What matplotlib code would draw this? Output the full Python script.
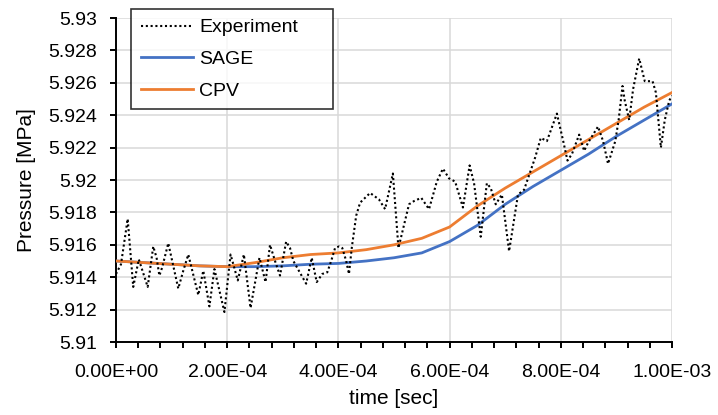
import matplotlib
matplotlib.use("Agg")
import matplotlib.pyplot as plt
from matplotlib.ticker import MultipleLocator, FuncFormatter
import numpy as np

plt.rcParams["font.family"] = ["Liberation Sans", "DejaVu Sans"]

# measured pressure, time in microseconds
exp_t_us = [0, 9, 21, 31, 41, 57, 67, 73, 78, 83, 94, 112, 121, 130, 148, 157,
            168, 177, 195, 206, 211, 219, 230, 242, 258, 269, 277, 286, 295,
            306, 313, 319, 342, 352, 361, 371, 380, 387, 394, 401, 407, 414,
            419, 424, 432, 439, 457, 473, 484, 498, 508, 527, 536, 549, 563,
            577, 588, 599, 610, 624, 636, 644, 656, 667, 674, 683, 694, 707,
            723, 734, 743, 754, 764, 775, 793, 805, 812, 820, 833, 842, 849,
            867, 876, 885, 898, 904, 911, 915, 923, 930, 941, 951, 965, 971,
            980, 987, 995, 1000]
exp_p = [5.9142, 5.9148, 5.9176, 5.9134, 5.9151, 5.9134, 5.9159, 5.9152,
         5.9141, 5.9146, 5.9161, 5.9133, 5.9144, 5.9154, 5.9129, 5.9144,
         5.9122, 5.9145, 5.91185, 5.9154, 5.9148, 5.9138, 5.9154, 5.9121,
         5.9152, 5.9137, 5.9160, 5.9150, 5.9141, 5.9162, 5.9158, 5.9150,
         5.9136, 5.9152, 5.9137, 5.9142, 5.9143, 5.9150, 5.9158, 5.9159,
         5.9158, 5.9150, 5.9142, 5.9158, 5.9178, 5.9186, 5.9192, 5.9188,
         5.9182, 5.9204, 5.9158, 5.9185, 5.9187, 5.9189, 5.9182, 5.9199,
         5.9207, 5.9201, 5.9199, 5.9183, 5.9209, 5.9198, 5.9165, 5.9198,
         5.9195, 5.9185, 5.9191, 5.9156, 5.9191, 5.9194, 5.9203, 5.9214,
         5.9226, 5.9224, 5.9241, 5.9223, 5.9212, 5.9216, 5.9228, 5.9218,
         5.9223, 5.9233, 5.9224, 5.9210, 5.9224, 5.9237, 5.9258, 5.9249,
         5.9237, 5.9256, 5.9275, 5.9261, 5.9261, 5.9254, 5.9220, 5.9237,
         5.9249, 5.9252]

# simulations, time in microseconds
sim_t_us = [0, 50, 100, 150, 200, 250, 300, 350, 400, 450, 500, 550, 600,
            650, 700, 750, 800, 850, 900, 950, 1000]
sage_p = [5.9150, 5.9149, 5.9148, 5.9147, 5.91465, 5.91465, 5.9147, 5.9148,
          5.91485, 5.9150, 5.9152, 5.9155, 5.9162, 5.9172, 5.9185, 5.9196,
          5.9206, 5.9216, 5.9227, 5.9237, 5.9247]
cpv_p = [5.9150, 5.9149, 5.9148, 5.9147, 5.91465, 5.9149, 5.9152, 5.9154,
         5.9155, 5.9157, 5.9160, 5.9164, 5.9171, 5.9184, 5.9195, 5.9205,
         5.9215, 5.9225, 5.9235, 5.9245, 5.9254]

exp_t = np.array(exp_t_us) * 1e-6
sim_t = np.array(sim_t_us) * 1e-6

fig = plt.figure(figsize=(7.18, 4.15), dpi=100)
ax = fig.add_axes([116 / 718, 1 - 342 / 415, 556 / 718, 324 / 415])

ax.plot(exp_t, exp_p, color="black", lw=1.5, linestyle=(0, (1, 1.3)),
        label="Experiment", zorder=4)
ax.plot(sim_t, sage_p, color="#4472C4", lw=2.0, label="SAGE", zorder=3)
ax.plot(sim_t, cpv_p, color="#ED7D31", lw=2.0, label="CPV", zorder=3.5)

ax.set_xlim(0, 1e-3)
ax.set_ylim(5.91, 5.93)
ax.xaxis.set_major_locator(MultipleLocator(2e-4))
ax.xaxis.set_minor_locator(MultipleLocator(4e-5))
ax.yaxis.set_major_locator(MultipleLocator(0.002))
ax.xaxis.set_major_formatter(FuncFormatter(lambda v, p: f"{v:.2E}"))
ax.yaxis.set_major_formatter(FuncFormatter(lambda v, p: f"{round(v, 3):g}"))

ax.grid(True, color="#d9d9d9", lw=1.1, zorder=0)
ax.set_axisbelow(True)
for s in ["top", "right"]:
    ax.spines[s].set_visible(False)
for s in ["left", "bottom"]:
    ax.spines[s].set_linewidth(1.4)
ax.tick_params(which="both", direction="out", length=4.5, width=1.4,
               labelsize=14, colors="black")
ax.tick_params(axis="y", pad=9)
ax.tick_params(axis="x", pad=11)

ax.set_xlabel("time [sec]", fontsize=15, labelpad=6)
ax.set_ylabel("Pressure [MPa]", fontsize=15, labelpad=9)

# legend box spans x 131-333 px, y 9-110 px of the figure
leg = ax.legend(loc="upper left",
                bbox_to_anchor=(131 / 718, 1 - 110 / 415, 202 / 718, 101 / 415),
                bbox_transform=fig.transFigure, mode="expand", fontsize=14,
                frameon=True, fancybox=False, edgecolor="black",
                handlelength=2.7, handletextpad=0.3, labelspacing=0.72,
                borderpad=0.5, borderaxespad=0)
leg.get_frame().set_linewidth(1.2)

fig.savefig("out.png", dpi=100)
